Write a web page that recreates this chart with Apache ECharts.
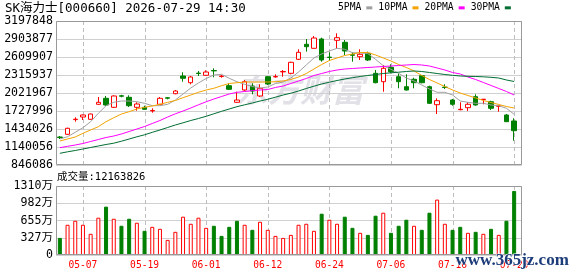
<!DOCTYPE html>
<html>
<head>
<meta charset="utf-8">
<script src="https://cdn.jsdelivr.net/npm/echarts@6/dist/echarts.min.js"></script>
<style>
  html, body { margin: 0; padding: 0; background: #fff; }
  #chart { width: 578px; height: 276px; }
</style>
</head>
<body>
<div id="chart"></div>
<script>
// trading days
const dates = ['04-30','05-04','05-06','05-07','05-08','05-11','05-12','05-13','05-14','05-15',
  '05-18','05-19','05-20','05-21','05-22','05-26','05-27','05-28','05-29','06-01',
  '06-02','06-04','06-05','06-08','06-09','06-10','06-11','06-12','06-15','06-16',
  '06-17','06-18','06-19','06-22','06-23','06-24','06-25','06-26','06-29','06-30',
  '07-01','07-02','07-03','07-06','07-07','07-08','07-09','07-10','07-13','07-14',
  '07-15','07-16','07-20','07-21','07-22','07-23','07-24','07-27','07-28','07-29'];
const tickDates = ['05-07','05-19','06-01','06-12','06-24','07-06','07-16','07-29'];

// [open, close, low, high]
const kline = [
  [1303400,1293600,1270700,1319700],[1347500,1445500,1336000,1455300],[1587500,1594100,1553200,1625100],
  [1630000,1662700,1581000,1670800],[1592400,1679000,1585900,1683900],[1837400,1870100,1830900,1956600],
  [1935400,1826000,1809700,1973000],[1788400,1973000,1777000,1984400],[1976200,1969700,1951700,1992600],
  [1951700,1814600,1793300,1984400],[1788400,1842300,1732900,1870100],[1788400,1755800,1749200,1814600],
  [1729600,1736200,1700200,1772100],[1837400,1935400,1826000,1956600],[1943600,1937000,1919100,1956600],
  [2010500,2054600,2000700,2071000],[2299600,2262000,2206500,2360000],[2190200,2283300,2164100,2299600],
  [2347000,2340400,2299600,2381300],[2311000,2364900,2299600,2392700],[2389400,2382900,2278400,2425400],
  [2291400,2298000,2271800,2315900],[2141200,2082400,2071000,2180400],[1870100,1907600,1863600,2043200],
  [2071000,2206500,2054600,2234300],[2136300,2054600,2000700,2180400],[1973000,2098700,1956600,2164100],
  [2288200,2169000,2152600,2299600],[2284900,2291400,2271800,2327400],[2366600,2373100,2288200,2397600],
  [2343700,2523400,2327400,2533200],[2572300,2686700,2560900,2735700],[2817300,2778100,2696500,2903900],
  [2752000,2920200,2748700,2952900],[2903900,2560900,2533200,2925100],[2608300,2601700,2549500,2686700],
  [2882600,2925100,2752000,2997000],[2850000,2707900,2642600,2887500],[2645800,2639300,2533200,2686700],
  [2614800,2654000,2560900,2735700],[2670300,2560900,2544600,2696500],[2343700,2190200,2180400,2397600],
  [2206500,2425400,2043200,2479300],[2441700,2369800,2343700,2490700],[2288200,2206500,2098700,2343700],
  [2124900,2071000,2062800,2327400],[2245700,2190200,2098700,2271800],[2304500,2190200,2180400,2315900],
  [2124900,1853800,1842300,2141200],[1830900,1896200,1679000,1935400],[2118300,2111800,2087300,2164100],
  [1907600,1837400,1814600,1924000],[1749200,1755800,1739400,1870100],[1781900,1837400,1728000,1870100],
  [1961500,1826000,1814600,2000700],[1915800,1920700,1837400,1924000],[1879900,1772100,1744300,1896200],
  [1806400,1811300,1716600,1814600],[1662700,1553200,1548300,1679000],[1564700,1406300,1242900,1608800]
];

const ma5 = [1270700,1308300,1380100,1455300,1553200,1690400,1814600,1870100,1891300,1891300,
  1879900,1853800,1814600,1814600,1837400,1907600,2005600,2103600,2185300,2258800,
  2315900,2327400,2262000,2206500,2164100,2128100,2103600,2120000,2177100,2201600,
  2266900,2364900,2479300,2593600,2658900,2707900,2752000,2735700,2680100,2675200,
  2667100,2572300,2467800,2409000,2343700,2266900,2217900,2152600,2087300,2033400,
  2033400,1989300,1891300,1870100,1853800,1853800,1826000,1814600,1772100,1674100];
const ma10 = [1238000,1270700,1303400,1363800,1417700,1471600,1553200,1618600,1679000,1716600,
  1760700,1788400,1809700,1837400,1870100,1899500,1945200,1989300,2033400,2071000,
  2098700,2141200,2177100,2190200,2201600,2201600,2201600,2201600,2206500,2217900,
  2242400,2283300,2340400,2413900,2487400,2552700,2593600,2634400,2658900,2683400,
  2683400,2642600,2593600,2544600,2487400,2438400,2381300,2307800,2242400,2185300,
  2128100,2071000,2022000,1981100,1940300,1899500,1866800,1834200,1801500,1777000];
const ma20 = [1128600,1151500,1172700,1197200,1229900,1262500,1295200,1319700,1352400,1393200,
  1434000,1474900,1523900,1572800,1630000,1682300,1728000,1777000,1829300,1878300,
  1924000,1964800,2005600,2033400,2046500,2059500,2071000,2079100,2111800,2136300,
  2177100,2217900,2258800,2307800,2340400,2373100,2397600,2413900,2422100,2430300,
  2438400,2446600,2454800,2462900,2471100,2479300,2487400,2479300,2462900,2430300,
  2397600,2356800,2332300,2283300,2242400,2193500,2144500,2095500,2046500,1989300];
const ma30 = [1037200,1061700,1082900,1107400,1131900,1156400,1180900,1202100,1234800,1270700,
  1306600,1339300,1380100,1417700,1458500,1499400,1535300,1572800,1605500,1641400,
  1682300,1723100,1760700,1798200,1829300,1858700,1891300,1919100,1953400,1989300,
  2018700,2054600,2095500,2133000,2169000,2198400,2226100,2250600,2271800,2291400,
  2307800,2324100,2340400,2351900,2361700,2373100,2381300,2373100,2356800,2340400,
  2324100,2311000,2299600,2294700,2291400,2286500,2278400,2266900,2234300,2209800];

const volumes = [3250000,5740000,6500000,5740000,4020000,7080000,9180000,6880000,5550000,6880000,
  6120000,4590000,5350000,4970000,2870000,4400000,7270000,5930000,7080000,5160000,
  5550000,3630000,5350000,6500000,5740000,4780000,6310000,4780000,3630000,3250000,
  3820000,5740000,5930000,4590000,7840000,6690000,5930000,7270000,5160000,4210000,
  3820000,7460000,8030000,4210000,5550000,6690000,5550000,4780000,8030000,10520000,
  5930000,4780000,5350000,4210000,4400000,4020000,4970000,3820000,6500000,12163826];
// 1 = red (hollow) bar, 0 = green bar
const volUp = [0,1,1,1,1,1,0,1,0,0, 1,0,1,1,1,1,1,1,1,1, 0,0,0,0,1,0,1,1,1,1,
  1,1,1,1,0,1,1,0,0,1, 0,0,1,0,0,0,1,0,0,1, 1,0,0,1,0,1,0,1,0,0];

const priceTicks = [846086,1140056,1434026,1727996,2021967,2315937,2609907,2903877,3197848];
const volTicks = ['0','327万','655万','982万','1310万'];
const volMax = 13100000;

var chartDom = document.getElementById('chart');
var myChart = echarts.init(chartDom);
const mono = "'DejaVu Sans Mono', 'Noto Sans CJK SC', monospace";

let volData = volumes.map((v, i) => ({
  value: v,
  itemStyle: volUp[i]
    ? { color: '#fff', borderColor: '#ff0000', borderWidth: 1 }
    : { color: '#008000', borderColor: '#008000', borderWidth: 1 }
}));

function maLine(name, data, color) {
  return {
    name: name, type: 'line', xAxisIndex: 0, yAxisIndex: 0, data: data,
    symbol: 'none', smooth: false, z: 3,
    lineStyle: { width: 1, color: color }, itemStyle: { color: color }
  };
}

const hidden = { axisLine: { show: false }, axisTick: { show: false }, splitLine: { show: false } };

const baseGraphic = [
  { type: 'text', left: 236, top: 74, z: -10, silent: true,
    style: { text: '东方财富', fontFamily: "'Noto Sans CJK SC'", fontSize: 32, fontWeight: 'bold',
      fontStyle: 'italic', fill: '#e1e1e7' } },
  { type: 'rect', z: 50, silent: true, shape: { x: 56.5, y: 21.5, width: 465, height: 143 },
    style: { fill: 'none', stroke: '#999', lineWidth: 1 } },
  { type: 'rect', z: 50, silent: true, shape: { x: 56.5, y: 186.5, width: 465, height: 68 },
    style: { fill: 'none', stroke: '#999', lineWidth: 1 } },
  { type: 'text', left: 455, top: 252, z: 60, silent: true,
    style: { text: 'www.365jz.com', fontFamily: "'Liberation Serif'", fontSize: 17, fontWeight: 'bold',
      fill: '#1c3c7a', stroke: '#fff', lineWidth: 1 } }
];

var option = {
  animation: false,
  backgroundColor: '#fff',
  title: [
    { text: 'SK海力士[000660] 2026-07-29 14:30', left: 5, top: 2, padding: 0,
      textStyle: { fontFamily: mono, fontSize: 12.5, fontWeight: 'normal', color: '#000' } },
    { text: '成交量:' + volumes[volumes.length - 1], left: 57, top: 172, padding: 0,
      textStyle: { fontFamily: mono, fontSize: 10.5, fontWeight: 'normal', color: '#000' } }
  ],
  legend: {
    left: 338, top: 3, padding: 0, align: 'right', icon: 'rect',
    itemWidth: 6, itemHeight: 3, itemGap: 6, selectedMode: false,
    textStyle: { fontFamily: mono, fontSize: 9.7, color: '#000' },
    data: ['5PMA', '10PMA', '20PMA', '30PMA']
  },
  grid: [
    { left: 56, top: 21, width: 462, height: 144 },
    { left: 56, top: 186, width: 462, height: 69 },
    { left: 56, top: 21, width: 466, height: 144 },
    { left: 56, top: 186, width: 466, height: 69 }
  ],
  xAxis: [
    Object.assign({ type: 'category', gridIndex: 0, data: dates, axisLabel: { show: false } }, hidden),
    Object.assign({ type: 'category', gridIndex: 1, data: dates,
      axisLabel: { interval: (i, v) => tickDates.includes(v), color: '#ff0000',
        fontFamily: mono, fontSize: 9.6, margin: 6 } }, hidden),
    { type: 'value', gridIndex: 2, min: 0, max: 1, show: false },
    { type: 'value', gridIndex: 3, min: 0, max: 1, show: false }
  ],
  yAxis: [
    { type: 'value', gridIndex: 0, min: priceTicks[0], max: priceTicks[priceTicks.length - 1], show: false },
    { type: 'value', gridIndex: 1, min: 0, max: volMax, show: false },
    { type: 'value', gridIndex: 2, min: 0, max: priceTicks.length - 1, interval: 1,
      axisLine: { show: false }, axisTick: { show: false },
      axisLabel: { formatter: v => String(priceTicks[v]), fontFamily: mono, fontSize: 11.6, color: '#000', margin: 3 },
      splitLine: { lineStyle: { color: '#d0d0d0', width: 1 } } },
    { type: 'value', gridIndex: 3, min: 0, max: volTicks.length - 1, interval: 1,
      axisLine: { show: false }, axisTick: { show: false },
      axisLabel: { formatter: v => volTicks[v], fontFamily: mono, fontSize: 11.6, color: '#000', margin: 3 },
      splitLine: { lineStyle: { color: '#d0d0d0', width: 1 } } }
  ],
  graphic: baseGraphic,
  series: [
    {
      type: 'candlestick', xAxisIndex: 0, yAxisIndex: 0, data: kline, barWidth: 5, z: 2,
      itemStyle: { color: '#fff', color0: '#008000', borderColor: '#ff0000', borderColor0: '#008000', borderWidth: 1 }
    },
    maLine('5PMA', ma5, '#a0a0a0'),
    maLine('10PMA', ma10, '#f5a300'),
    maLine('20PMA', ma20, '#ff00ff'),
    maLine('30PMA', ma30, '#006d32'),
    {
      type: 'bar', xAxisIndex: 1, yAxisIndex: 1, data: volData, barWidth: 4, z: 2
    }
  ]
};

option && myChart.setOption(option);

// dashed vertical lines at the labelled dates, placed with the chart's own axes
let dashG = [];
tickDates.forEach(d => {
  const x = Math.round(myChart.convertToPixel({ xAxisIndex: 0 }, dates.indexOf(d))) + 0.5;
  const panels = [
    [myChart.convertToPixel({ yAxisIndex: 0 }, priceTicks[priceTicks.length - 1]),
     myChart.convertToPixel({ yAxisIndex: 0 }, priceTicks[0])],
    [myChart.convertToPixel({ yAxisIndex: 1 }, volMax),
     myChart.convertToPixel({ yAxisIndex: 1 }, 0)]
  ];
  panels.forEach(p => {
    dashG.push({
      type: 'line', z: 2, silent: true,
      shape: { x1: x, y1: p[0], x2: x, y2: p[1] },
      style: { stroke: '#bdbdbd', lineWidth: 1, lineDash: [4, 3] }
    });
  });
});
myChart.setOption({ graphic: baseGraphic.concat(dashG) });
</script>
</body>
</html>
